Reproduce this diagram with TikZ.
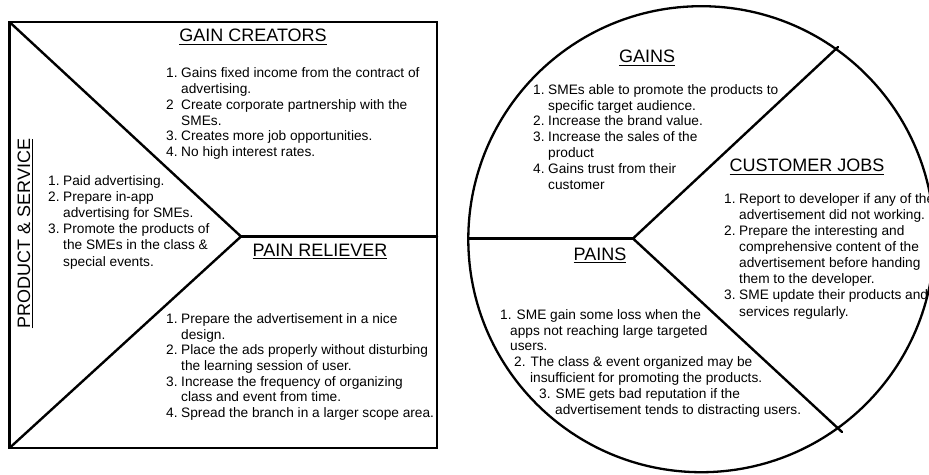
\documentclass[tikz,border=0pt]{standalone}
\usepackage{fontspec}
\setmainfont{Liberation Sans}
\usetikzlibrary{calc}

% heading text with a heavier underline
\newcommand\ulhead[1]{\setbox0=\hbox{#1}\rlap{\rule[-3.3pt]{\wd0}{1.3pt}}\box0}
% numbered list: number column, then text column
\newcommand\numlist[1]{\begin{tabular}[t]{@{}l@{\hspace{3.6pt}}l@{}}#1\end{tabular}}
\newcommand\linelist[1]{\begin{tabular}[t]{@{}l@{}}#1\end{tabular}}

\tikzset{
  frame/.style={line width=2.6pt, line join=miter},
  divider/.style={line width=2.4pt, line cap=round},
  wheel/.style={line width=2.3pt},
  heading/.style={inner sep=0pt, anchor=base, font=\fontsize{18}{21}\selectfont},
  listtext/.style={inner sep=0pt, anchor=base west, font=\fontsize{13.7}{#1}\selectfont},
}

\begin{document}
\begin{tikzpicture}[x=1pt, y=-1pt]
\useasboundingbox (0,0) rectangle (929,474);
\fill[white] (0,0) rectangle (929,474);
\clip (0,0) rectangle (929,474);

% ---------- value map (square) ----------
\coordinate (tl) at (9.5,22);
\coordinate (tr) at (437,22);
\coordinate (br) at (437,448);
\coordinate (bl) at (9.5,448);
\coordinate (mid) at (241,236.5);
\coordinate (midr) at (437,236.5);

\draw[frame] (tl) -- (tr) -- (br) -- (bl) -- cycle;
\draw[divider] (tl) -- (mid) -- (bl);
\draw[divider] (mid) -- (midr);

\node[heading] (gc) at (253,41.7) {\ulhead{GAIN CREATORS}};
\node[listtext=15.9] (gclist) at (166,77.3) {\numlist{
  1. & Gains fixed income from the contract of\\
     & advertising.\\
  2  & Create corporate partnership with the\\
     & SMEs.\\
  3. & Creates more job opportunities.\\
  4. & No high interest rates.}};

\node[heading, rotate=90] (ps) at (30,233.5) {\ulhead{PRODUCT \& SERVICE}};
\node[listtext=16.2] (pslist) at (48,185) {\numlist{
  1. & Paid advertising.\\
  2. & Prepare in-app\\
     & advertising for SMEs.\\
  3. & Promote the products of\\
     & the SMEs in the class \&\\
     & special events.}};

\node[heading] (pr) at (320,256) {\ulhead{PAIN RELIEVER}};
\node[listtext=15.7] (prlist) at (166,323.3) {\numlist{
  1. & Prepare the advertisement in a nice\\
     & design.\\
  2. & Place the ads properly without disturbing\\
     & the learning session of user.\\
  3. & Increase the frequency of organizing\\
     & class and event from time.\\
  4. & Spread the branch in a larger scope area.}};

% ---------- customer profile (circle) ----------
\coordinate (cc) at (701.3,239.2);
\coordinate (hub) at (633,238.5);
\coordinate (rimleft) at (468.3,238.5);
\coordinate (rimup) at (838,47);
\coordinate (rimdown) at (842,432);

\draw[wheel] (cc) circle[radius=233];
\draw[divider] (rimleft) -- (hub);
\draw[divider] (rimup) -- (hub) -- (rimdown);

\node[heading] (gains) at (647,62.7) {\ulhead{GAINS}};
\node[listtext=15.8] (gainslist) at (533,94.3) {\numlist{
  1. & SMEs able to promote the products to\\
     & specific target audience.\\
  2. & Increase the brand value.\\
  3. & Increase the sales of the\\
     & product\\
  4. & Gains trust from their\\
     & customer}};

\node[heading] (jobs) at (807,171.7) {\ulhead{CUSTOMER JOBS}};
\node[listtext=16.1] (jobslist) at (724,203.3) {\numlist{
  1. & Report to developer if any of the\\
     & advertisement did not working.\\
  2. & Prepare the interesting and\\
     & comprehensive content of the\\
     & advertisement before handing\\
     & them to the developer.\\
  3. & SME update their products and\\
     & services regularly.}};

\node[heading] (pains) at (600,260) {\ulhead{PAINS}};
\node[listtext=15.8] (painslist) at (500,319.3) {\linelist{
  1. SME gain some loss when the\\
  \hspace*{10pt}apps not reaching large targeted\\
  \hspace*{10pt}users.\\
  \hspace*{14pt}2. The class \& event organized may be\\
  \hspace*{30pt}insufficient for promoting the products.\\
  \hspace*{39pt}3. SME gets bad reputation if the\\
  \hspace*{55pt}advertisement tends to distracting users.}};
\end{tikzpicture}
\end{document}
